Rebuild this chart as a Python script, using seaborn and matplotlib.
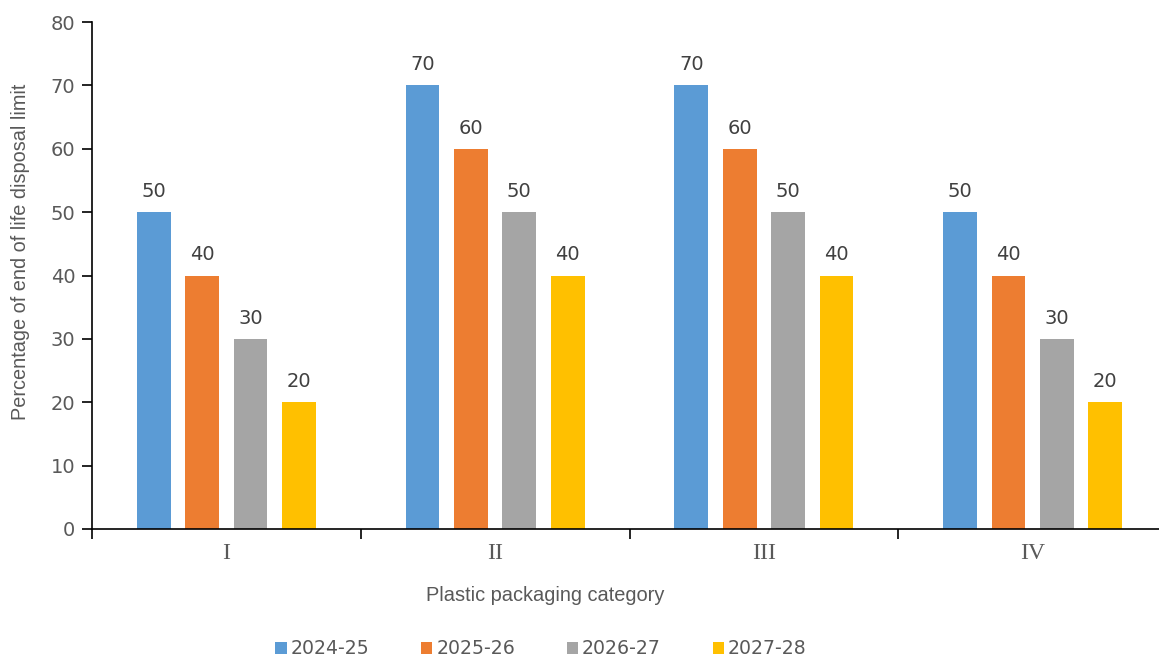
import matplotlib
matplotlib.use("Agg")
import matplotlib.pyplot as plt
import seaborn as sns
import pandas as pd

categories = ["I", "II", "III", "IV"]
years = ["2024-25", "2025-26", "2026-27", "2027-28"]
values = {
    "2024-25": [50, 70, 70, 50],
    "2025-26": [40, 60, 60, 40],
    "2026-27": [30, 50, 50, 30],
    "2027-28": [20, 40, 40, 20],
}
colors = ["#5B9BD5", "#ED7D31", "#A5A5A5", "#FFC000"]

rows = []
for y in years:
    for c, v in zip(categories, values[y]):
        rows.append({"category": c, "year": y, "value": v})
df = pd.DataFrame(rows)

sns.set_theme(style="white")
plt.rcParams["font.family"] = ["DejaVu Sans"]

fig = plt.figure(figsize=(11.59, 6.57), dpi=100)
ax = fig.add_axes([92 / 1159, 128 / 657, 1075 / 1159, 507 / 657])

sns.barplot(data=df, x="category", y="value", hue="year", hue_order=years,
            order=categories, palette=colors, width=0.72, gap=0.3,
            saturation=1, edgecolor="none", ax=ax, legend=True)

for cont in ax.containers:
    ax.bar_label(cont, fmt="%d", padding=8, fontsize=14, color="#404040")

ax.set_xlim(-0.5, 3.5)
ax.set_ylim(0, 80)
ax.set_yticks(range(0, 81, 10))
ax.tick_params(axis="y", labelsize=14, labelcolor="#595959", length=7,
               width=1.2, color="black", direction="out", left=True, pad=5)
ax.set_xticks(range(len(categories)))
ax.set_xticklabels(categories, fontfamily="Liberation Serif", fontsize=17,
                   color="#595959")
ax.tick_params(axis="x", length=0, pad=10)
ax.set_xticks([-0.5, 0.5, 1.5, 2.5, 3.5], minor=True)
ax.tick_params(axis="x", which="minor", length=7, width=1.2, color="black",
               direction="out", bottom=True)

for s in ["top", "right"]:
    ax.spines[s].set_visible(False)
for s in ["left", "bottom"]:
    ax.spines[s].set_color("black")
    ax.spines[s].set_linewidth(1.2)

ax.set_xlabel("Plastic packaging category", fontsize=14.4, color="#595959",
              fontfamily="Liberation Sans")
ax.xaxis.set_label_coords(0.422, -0.112)
ax.set_ylabel("Percentage of end of life disposal limit", fontsize=14.3,
              color="#595959", fontfamily="Liberation Sans")
ax.yaxis.set_label_coords(-0.058, 0.546)

handles, labels = ax.get_legend_handles_labels()
ax.get_legend().remove()
fig.legend(handles, labels, loc="center", bbox_to_anchor=(541 / 1159, 8 / 657),
           ncol=4, frameon=False, fontsize=13.6, handlelength=0.6,
           handleheight=0.6, handletextpad=0.2, columnspacing=2.75,
           labelcolor="#595959")

fig.savefig("out.png", dpi=100)
